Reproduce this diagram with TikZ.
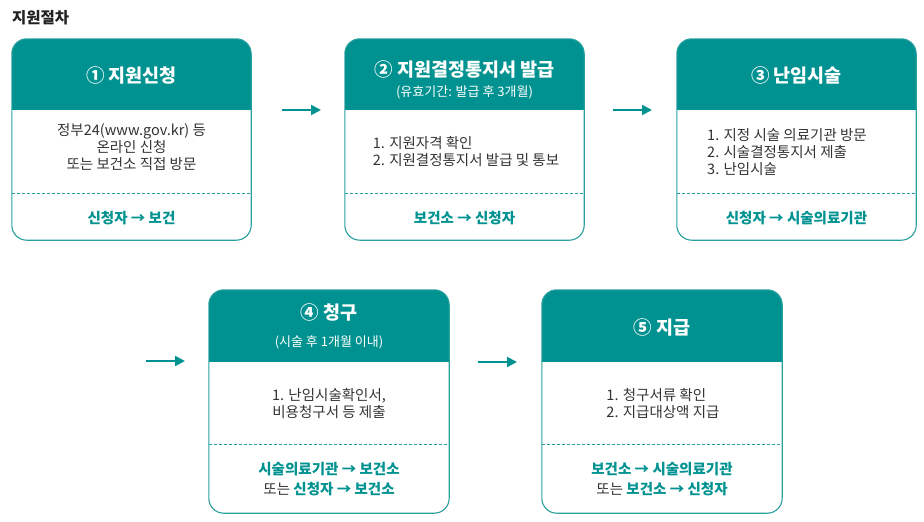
\documentclass[tikz,border=0pt]{standalone}
\usepackage{fontspec}
\setmainfont{Noto Sans CJK KR}
\usetikzlibrary{arrows.meta}
\definecolor{teal1}{RGB}{0,146,144}
\definecolor{tealline}{RGB}{40,160,158}
\definecolor{txt}{RGB}{51,51,51}
\definecolor{ttl}{RGB}{34,34,34}
\newcommand\mkcard[7]{%
  \node[card, minimum width=#4, minimum height=#5] (#1) at (#2,#3) {};
  \begin{scope}
    \clip[rounded corners=15pt] (#1.north west) rectangle (#1.south east);
    \fill[teal1] (#1.north west) rectangle (#1.east |- 0,#6);
  \end{scope}
  \draw[cardline] (#1.north west) rectangle (#1.south east);
  \draw[sep] (#1.west |- 0,#7) -- (#1.east |- 0,#7);
}
\newcommand\orword{\textcolor{txt}{\mdseries 또는}}
\begin{document}
\begin{tikzpicture}[x=1pt,y=-1pt,
  card/.style={rectangle, inner sep=0pt},
  cardline/.style={draw=tealline, line width=1.1pt, rounded corners=15pt},
  sep/.style={draw=tealline, line width=0.9pt, dash pattern=on 3pt off 2pt},
  hdtitle/.style={text=white, font=\bfseries\fontsize{18.5}{22}\selectfont, inner sep=0pt},
  hdsub/.style={text=white, font=\fontsize{13}{15}\selectfont, inner sep=0pt},
  bodytxt/.style={text=txt, font=\fontsize{14.5}{17}\selectfont, inner sep=0pt},
  foot/.style={text=teal1, font=\bfseries\fontsize{14.5}{20}\selectfont, inner sep=0pt, align=center},
  flow/.style={draw=teal1, line width=2pt, -{Triangle[length=10pt,width=10pt]}}
]
\useasboundingbox (0,0) rectangle (924,522);
\node[anchor=west, text=ttl, font=\bfseries\fontsize{15.5}{18}\selectfont, inner sep=0pt] (title) at (12,18) {지원절차};

\mkcard{b1}{131.5}{139.5}{239pt}{201pt}{110}{193}
\mkcard{b2}{464.5}{139.5}{239pt}{201pt}{110}{193}
\mkcard{b3}{796.5}{139.5}{239pt}{201pt}{110}{193}
\mkcard{b4}{329}{401.5}{240pt}{223pt}{362}{444}
\mkcard{b5}{662}{401.5}{240pt}{223pt}{362}{444}

% card 1
\node[hdtitle] (t1) at (131.5,75) {① 지원신청};
\node[bodytxt, align=center] (d1) at (131.5,147) {정부24(www.gov.kr) 등\\온라인 신청\\또는 보건소 직접 방문};
\node[foot] (f1) at (131.5,218) {신청자 → 보건};

% card 2
\node[hdtitle] (t2) at (464.5,69) {② 지원결정통지서 발급};
\node[hdsub] (s2) at (464.5,92) {(유효기간: 발급 후 3개월)};
\node[bodytxt, align=left] (d2) at (466,152) {1. 지원자격 확인\\2. 지원결정통지서 발급 및 통보};
\node[foot] (f2) at (464.5,218) {보건소 → 신청자};

% card 3
\node[hdtitle] (t3) at (796.5,75) {③ 난임시술};
\node[bodytxt, align=left] (d3) at (787,152.5) {1. 지정 시술 의료기관 방문\\2. 시술결정통지서 제출\\3. 난임시술};
\node[foot] (f3) at (796.5,218) {신청자 → 시술의료기관};

% card 4
\node[hdtitle] (t4) at (329,312) {④ 청구};
\node[hdsub] (s4) at (329,342) {(시술 후 1개월 이내)};
\node[bodytxt, align=center] (d4) at (329,404) {1. 난임시술확인서,\\비용청구서 등 제출};
\node[foot] (f4) at (329,479) {시술의료기관 → 보건소\\\orword{} 신청자 → 보건소};

% card 5
\node[hdtitle] (t5) at (662,327) {⑤ 지급};
\node[bodytxt, align=left] (d5) at (663,404) {1. 청구서류 확인\\2. 지급대상액 지급};
\node[foot] (f5) at (662,479) {보건소 → 시술의료기관\\\orword{} 보건소 → 신청자};

% arrows
\coordinate (a1s) at (282,110); \coordinate (a1e) at (321,110);
\coordinate (a2s) at (613,110); \coordinate (a2e) at (652,110);
\coordinate (a3s) at (146,361); \coordinate (a3e) at (185,361);
\coordinate (a4s) at (478,362); \coordinate (a4e) at (517,362);
\draw[flow] (a1s) -- (a1e);
\draw[flow] (a2s) -- (a2e);
\draw[flow] (a3s) -- (a3e);
\draw[flow] (a4s) -- (a4e);
\end{tikzpicture}
\end{document}
